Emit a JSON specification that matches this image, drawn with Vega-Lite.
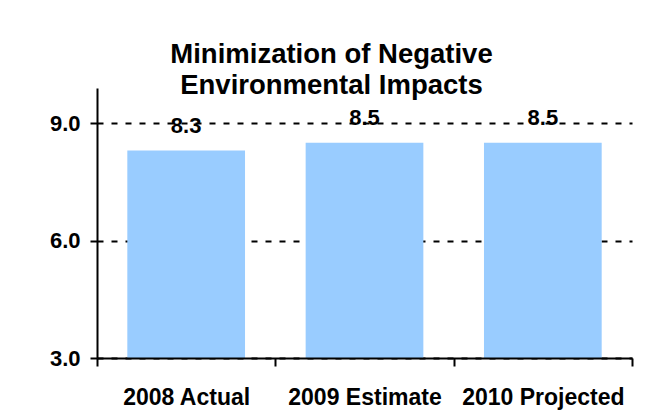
{
  "$schema": "https://vega.github.io/schema/vega-lite/v6.json",
  "width": 535,
  "height": 270,
  "autosize": {"type": "none"},
  "padding": {"left": 97, "top": 88, "right": 15, "bottom": 55},
  "background": "white",
  "title": {
    "text": ["Minimization of Negative", "Environmental Impacts"],
    "font": "Liberation Sans",
    "fontSize": 27.5,
    "fontWeight": "bold",
    "color": "black",
    "anchor": "middle",
    "dx": -33,
    "offset": -33,
    "lineHeight": 31,
    "baseline": "alphabetic"
  },
  "data": {
    "values": [
      {"category": "2008 Actual", "value": 8.3},
      {"category": "2009 Estimate", "value": 8.5},
      {"category": "2010 Projected", "value": 8.5}
    ]
  },
  "layer": [
    {
      "mark": {"type": "bar", "color": "#99CCFF", "width": {"band": 0.66}},
      "encoding": {
        "x": {
          "field": "category",
          "type": "nominal",
          "sort": null,
          "scale": {"paddingInner": 0, "paddingOuter": 0},
          "axis": {
            "title": null,
            "labelAngle": 0,
            "tickBand": "extent",
            "ticks": true,
            "tickSize": 8,
            "tickWidth": 2,
            "tickColor": "black",
            "domainColor": "black",
            "domainWidth": 2,
            "labelFont": "Liberation Sans",
            "labelFontSize": 23,
            "labelFontWeight": "bold",
            "labelColor": "black",
            "labelPadding": 20,
            "zindex": 1
          }
        },
        "y": {
          "field": "value",
          "type": "quantitative",
          "scale": {"domain": [3, 9.9], "zero": false, "nice": false},
          "axis": {
            "title": null,
            "values": [3, 6, 9],
            "format": ".1f",
            "grid": true,
            "gridDash": [6, 8],
            "gridColor": "black",
            "gridWidth": 2,
            "gridOpacity": 1,
            "domainColor": "black",
            "domainWidth": 2,
            "tickColor": "black",
            "tickWidth": 2,
            "tickSize": 7,
            "labelFont": "Liberation Sans",
            "labelFontSize": 22,
            "labelFontWeight": "bold",
            "labelColor": "black",
            "labelPadding": 10
          }
        },
        "y2": {"datum": 3}
      }
    },
    {
      "mark": {
        "type": "text",
        "dy": -18,
        "baseline": "alphabetic",
        "font": "Liberation Sans",
        "fontSize": 22,
        "fontWeight": "bold",
        "color": "black"
      },
      "encoding": {
        "x": {"field": "category", "type": "nominal", "sort": null},
        "y": {"field": "value", "type": "quantitative"},
        "text": {"field": "value", "type": "quantitative", "format": ".1f"}
      }
    }
  ],
  "config": {"view": {"stroke": null}}
}
